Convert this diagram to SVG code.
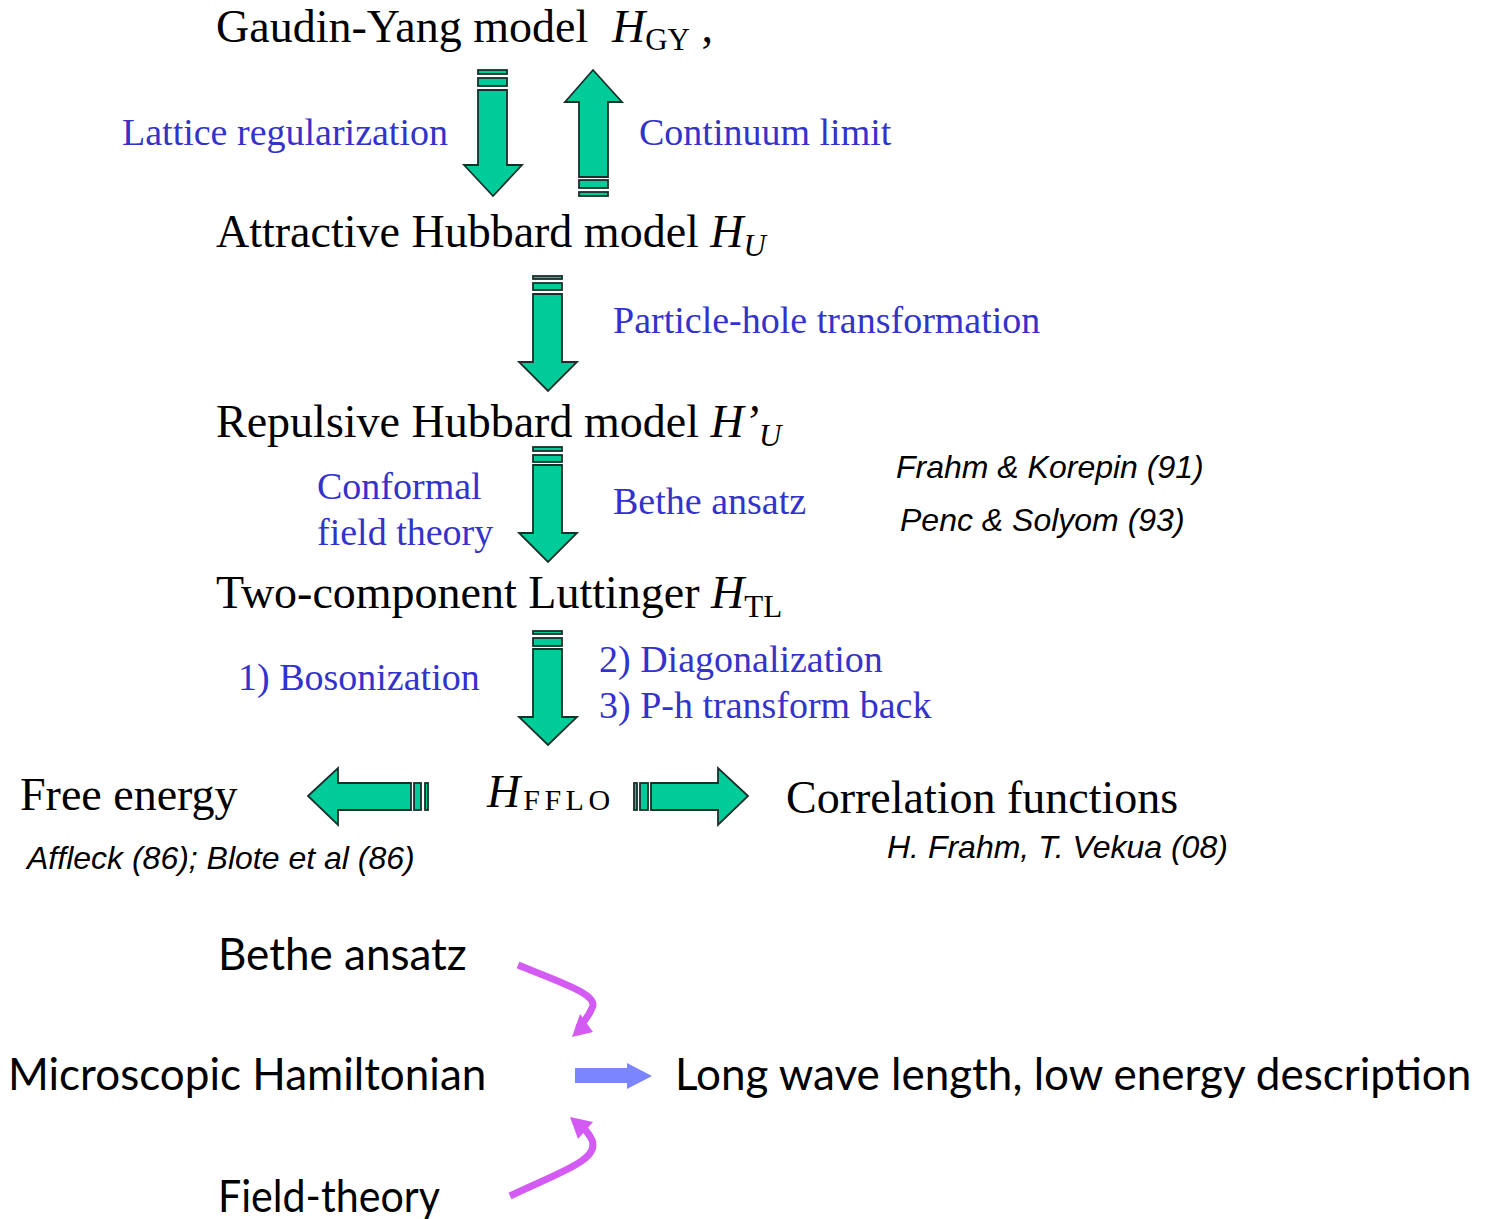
<svg xmlns="http://www.w3.org/2000/svg" width="1493" height="1219" viewBox="0 0 1493 1219">
<defs>
<style>
.t{font-family:"Liberation Serif","Times New Roman",serif;font-size:46px;fill:#000}
.b{font-family:"Liberation Serif","Times New Roman",serif;font-size:38px;fill:#3333cc}
.i{font-family:"Liberation Serif","Times New Roman",serif;font-style:italic}
.c{font-family:"Liberation Sans",Arial,sans-serif;font-style:italic;font-size:32px;fill:#000}
.g{font-family:Lato,"Open Sans",sans-serif;font-size:44px;fill:#000}
.ar{fill:#00cc99;stroke:#1b2f2a;stroke-width:1.8;stroke-linejoin:miter}
.cu{fill:none;stroke:#d35af2;stroke-width:7;stroke-linecap:butt}
.ch{fill:#d35af2}
</style>
</defs>
<rect width="1493" height="1219" fill="#fff"/>

<g id="connectors">
<g id="arrow-lattice">
<rect class="ar" x="478" y="70" width="29" height="4"/>
<rect class="ar" x="478" y="78" width="29" height="8"/>
<polygon class="ar" points="478,90 507,90 507,165 522,165 493,196 464,165 478,165"/>
</g>
<g id="arrow-continuum">
<polygon class="ar" points="593,70 622,102 608,102 608,177 579,177 579,102 565,102"/>
<rect class="ar" x="579" y="180" width="29" height="8"/>
<rect class="ar" x="579" y="192" width="29" height="4"/>
</g>
<g id="arrow-ph">
<rect class="ar" x="533" y="276" width="29" height="3"/>
<rect class="ar" x="533" y="283" width="29" height="7"/>
<polygon class="ar" points="533,294 562,294 562,362 577,362 548,391 519,362 533,362"/>
</g>
<g id="arrow-bethe">
<rect class="ar" x="533" y="447" width="29" height="4"/>
<rect class="ar" x="533" y="455" width="29" height="7"/>
<polygon class="ar" points="533,465 562,465 562,533 577,533 548,562 519,533 533,533"/>
</g>
<g id="arrow-boson">
<rect class="ar" x="533" y="631" width="29" height="3"/>
<rect class="ar" x="533" y="638" width="29" height="8"/>
<polygon class="ar" points="533,649 562,649 562,717 577,717 548,745 519,717 533,717"/>
</g>
<g id="arrow-left">
<polygon class="ar" points="308,796 338,768 338,783 411,783 411,810 338,810 338,825"/>
<rect class="ar" x="414" y="783" width="7" height="27"/>
<rect class="ar" x="425" y="783" width="3" height="27"/>
</g>
<g id="arrow-right">
<rect class="ar" x="634" y="783" width="3" height="27"/>
<rect class="ar" x="640" y="783" width="8" height="27"/>
<polygon class="ar" points="748,796 718,768 718,783 651,783 651,810 718,810 718,825"/>
</g>
<g id="curve-top">
<path class="cu" d="M518,965 C560,982 600,995 592,1008 C588,1018 582,1024 578,1028"/>
<polygon class="ch" points="572,1037 580,1014 593,1032"/>
</g>
<g id="curve-bottom">
<path class="cu" d="M510,1196 C560,1172 600,1160 592,1140 C588,1132 583,1127 579,1125"/>
<polygon class="ch" points="570,1117 578,1139 593,1122"/>
</g>
<g id="arrow-blue">
<polygon fill="#7b85ff" points="575,1068 627,1068 627,1063 652,1076 627,1089 627,1083 575,1083"/>
</g>
</g>

<g id="node-gy"><text class="t" x="216" y="42">Gaudin-Yang model</text><text class="t" x="612" y="42"><tspan class="i">H</tspan><tspan font-size="31" dy="8">GY</tspan><tspan dy="-8"> ,</tspan></text></g>
<g id="label-lattice"><text class="b" x="122" y="145">Lattice regularization</text></g>
<g id="label-continuum"><text class="b" x="639" y="145">Continuum limit</text></g>
<g id="node-hu"><text class="t" x="216" y="247">Attractive Hubbard model <tspan class="i">H</tspan><tspan class="i" font-size="31" dy="9">U</tspan></text></g>
<g id="label-ph"><text class="b" x="613" y="333">Particle-hole transformation</text></g>
<g id="node-hpu"><text class="t" x="216" y="437">Repulsive Hubbard model <tspan class="i">H’</tspan><tspan class="i" font-size="31" dy="9">U</tspan></text></g>
<g id="label-cft"><text class="b" x="317" y="499">Conformal</text><text class="b" x="317" y="545">field theory</text></g>
<g id="label-bethe"><text class="b" x="613" y="514">Bethe ansatz</text></g>
<g id="cite-fk"><text class="c" x="896" y="478">Frahm &amp; Korepin (91)</text></g>
<g id="cite-ps"><text class="c" x="900" y="531">Penc &amp; Solyom (93)</text></g>
<g id="node-tl"><text class="t" x="216" y="608">Two-component Luttinger <tspan class="i">H</tspan><tspan font-size="31" dy="9">TL</tspan></text></g>
<g id="label-boson"><text class="b" x="238" y="690">1) Bosonization</text></g>
<g id="label-diag"><text class="b" x="599" y="672">2) Diagonalization</text><text class="b" x="599" y="718">3) P-h transform back</text></g>
<g id="node-free"><text class="t" x="20" y="810">Free energy</text></g>
<g id="node-fflo"><text class="t" x="487" y="807" font-size="40"><tspan class="i">H</tspan><tspan font-size="30" dx="3" dy="3" letter-spacing="4.5">FFLO</tspan></text></g>
<g id="node-corr"><text class="t" x="786" y="813">Correlation functions</text></g>
<g id="cite-aff"><text class="c" x="27" y="869">Affleck (86); Blote et al (86)</text></g>
<g id="cite-fv"><text class="c" x="887" y="858">H. Frahm, T. Vekua (08)</text></g>
<g id="node-ba"><text class="g" x="218" y="970">Bethe ansatz</text></g>
<g id="node-micro"><text class="g" x="8" y="1090">Microscopic Hamiltonian</text></g>
<g id="node-long"><text class="g" x="675" y="1090">Long wave length, low energy description</text></g>
<g id="node-ft"><text class="g" x="218" y="1212" textLength="222" lengthAdjust="spacingAndGlyphs">Field-theory</text></g>
</svg>
